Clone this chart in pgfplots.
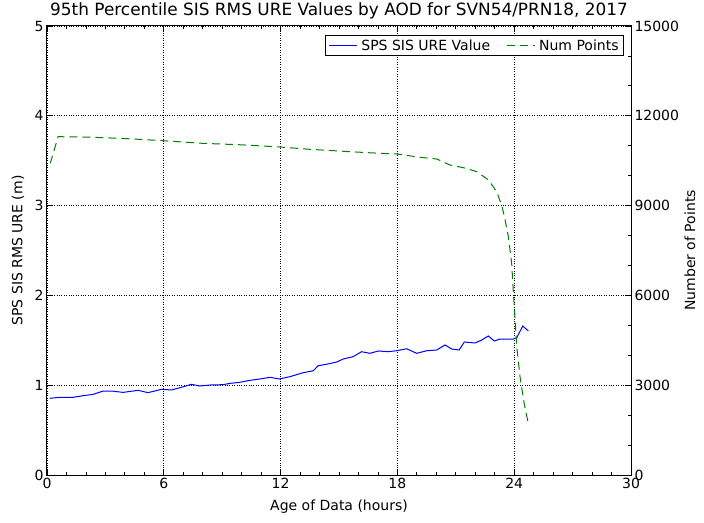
\documentclass[border=0pt]{standalone}
\usepackage{fontspec}
\setmainfont{DejaVu Sans}
\usepackage{pgfplots}
\pgfplotsset{compat=1.18}

\definecolor{mplblue}{rgb}{0,0,1}
\definecolor{mplgreen}{rgb}{0,0.5,0}

\pgfplotsset{
  common/.style={
    width=584pt, height=449pt, scale only axis,
    at={(0pt,0pt)}, anchor=south west,
    xmin=0, xmax=30,
    tick align=inside,
    major tick length=6pt, minor tick length=3pt,
    tick style={black, line width=0.8pt},
    axis line style={line width=1pt},
    tick label style={font=\fontsize{14}{16}\selectfont},
    label style={font=\fontsize{14}{16}\selectfont},
    /pgf/number format/assume math mode=true,
    /pgf/number format/1000 sep={},
    scaled y ticks=false,
  },
}

\begin{document}
\begin{tikzpicture}
\useasboundingbox (-47pt,-47pt) rectangle (657pt,475pt);

% left axis: 95th percentile URE
\begin{axis}[common,
  ymin=0, ymax=5,
  xtick={0,6,...,30}, minor x tick num=5,
  ytick={0,1,...,5},
  ytick pos=left,
  grid=major,
  grid style={black, dotted, line width=0.8pt},
  xlabel={Age of Data (hours)},
  ylabel={SPS SIS RMS URE (m)},
  xlabel style={at={([yshift=-32pt]rel axis cs:0.5,0)}, anchor=center},
  ylabel style={at={([xshift=-29pt]rel axis cs:0,0.5)}, anchor=center},
  title={95th Percentile SIS RMS URE Values by AOD for SVN54/PRN18, 2017},
  title style={font=\fontsize{16.9}{19}\selectfont,
    at={([yshift=4pt]rel axis cs:0.5,1)}, anchor=base},
]
\addplot[mplblue, line width=1pt] coordinates {
(0.14,0.854) (0.65,0.865) (1.34,0.865) (1.85,0.883) (2.37,0.898)
(2.88,0.935) (3.31,0.935) (3.91,0.920) (4.68,0.943) (5.19,0.917)
(5.88,0.954) (6.40,0.947) (6.91,0.977) (7.42,1.010) (7.85,0.991)
(8.37,1.002) (9.05,1.006) (9.39,1.020) (9.90,1.032) (10.42,1.054)
(10.94,1.069) (11.45,1.088) (11.93,1.069) (12.48,1.095) (13.16,1.139)
(13.68,1.161) (13.93,1.217) (14.36,1.233) (14.88,1.258) (15.22,1.292)
(15.73,1.318) (16.16,1.373) (16.59,1.355) (17.02,1.381) (17.53,1.373)
(17.96,1.384) (18.48,1.406) (18.99,1.355) (19.51,1.384) (20.02,1.392)
(20.45,1.448) (20.79,1.403) (21.17,1.392) (21.44,1.481) (21.99,1.470)
(22.33,1.503) (22.67,1.548) (22.98,1.492) (23.27,1.514) (23.96,1.514)
(24.13,1.529) (24.44,1.659) (24.73,1.603)
};
\end{axis}

% right axis: number of points
\begin{axis}[common,
  ymin=0, ymax=15000,
  axis x line=none,
  axis y line*=right,
  ytick={0,3000,...,15000}, minor y tick num=2,
  ylabel={Number of Points},
  ylabel style={at={([xshift=59pt]rel axis cs:1,0.5)}, anchor=center},
  legend columns=2,
  legend style={at={(0.988,0.98)}, anchor=north east,
    draw=black, line width=0.8pt, font=\fontsize{14}{16}\selectfont,
    inner xsep=3pt, inner ysep=2pt, column sep=2pt,
    /tikz/every even column/.append style={column sep=14pt}},
  legend image code/.code={\draw[#1] (0pt,0pt) -- (28pt,0pt);},
]
\addlegendimage{mplblue, line width=1pt}
\addlegendentry{SPS SIS URE Value}
\addplot[mplgreen, line width=1pt, dash pattern=on 8pt off 5pt] coordinates {
(0.17,10413) (0.57,11302) (2.0,11290) (4.0,11240) (5.96,11168)
(8.0,11080) (10.0,11030) (11.96,10958) (13.5,10880) (15.0,10824)
(15.56,10801) (17.10,10747) (17.96,10724) (19.16,10614) (20.02,10557)
(20.70,10356) (21.39,10267) (22.08,10133) (22.68,9855) (23.10,9465)
(23.36,9000) (23.50,8630) (23.70,7961) (23.87,7072) (23.96,6070)
(24.05,5178) (24.13,4286) (24.30,3284) (24.51,2395) (24.73,1704)
};
\addlegendentry{Num Points}
\end{axis}
\end{tikzpicture}
\end{document}
